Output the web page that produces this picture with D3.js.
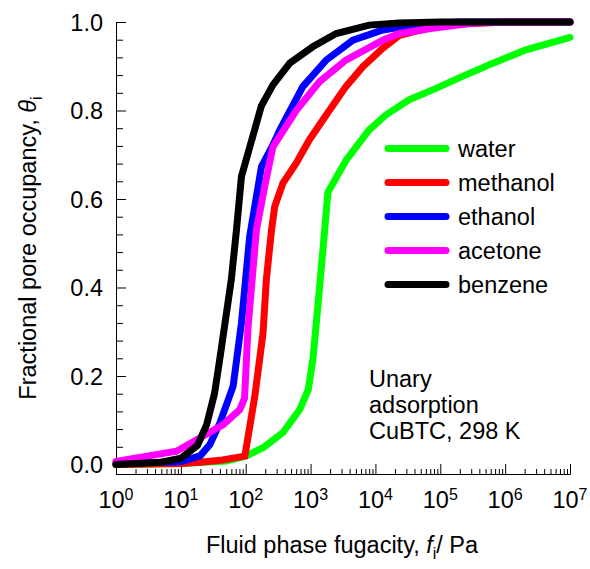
<!DOCTYPE html>
<html>
<head>
<meta charset="utf-8">
<script src="https://cdn.jsdelivr.net/npm/d3@7"></script>
<style>
  body { margin: 0; background: #fff; }
  text { font-family: "Liberation Sans", Arial, sans-serif; fill: #000; }
</style>
</head>
<body>
<svg id="chart" width="590" height="569"></svg>
<script>
// isotherm data: [fugacity / Pa, theta]
const water = [[1,0.0],[10,0.002],[50,0.008],[100,0.019],[185,0.038],[375,0.072],[680,0.124],[920,0.169],[1080,0.235],[1300,0.36],[1650,0.53],[1850,0.615],[3550,0.688],[8000,0.756],[14500,0.79],[33000,0.824],[86000,0.85],[2.2e5,0.877],[6.5e5,0.907],[2.1e6,0.937],[1e7,0.965]];
const methanol = [[1,0.0],[10,0.002],[20,0.005],[44,0.01],[97,0.019],[138,0.154],[185,0.297],[208,0.418],[250,0.53],[280,0.583],[375,0.636],[600,0.681],[960,0.734],[1970,0.801],[3500,0.854],[6400,0.899],[13000,0.941],[23500,0.97],[1e5,0.993],[1e6,1.0],[1e7,1.0]];
const ethanol = [[1,0.002],[10,0.006],[20,0.02],[28,0.045],[40,0.094],[64,0.177],[86,0.32],[115,0.515],[175,0.673],[263,0.722],[335,0.756],[760,0.854],[1750,0.914],[4500,0.959],[13000,0.982],[50000,0.996],[2e5,1.0],[1e7,1.0]];
const acetone = [[1,0.007],[8.6,0.03],[19.6,0.06],[45,0.09],[81,0.124],[96,0.15],[108,0.305],[146,0.53],[196,0.628],[263,0.718],[600,0.80],[1370,0.865],[3500,0.914],[13000,0.959],[23500,0.974],[76000,0.986],[3e5,0.997],[1e6,1.0],[1e7,1.0]];
const benzene = [[1,0.0],[5,0.005],[10,0.014],[18,0.043],[25,0.09],[33,0.16],[40,0.24],[60,0.418],[72,0.53],[86,0.651],[174,0.81],[263,0.858],[478,0.907],[1080,0.944],[2490,0.974],[8000,0.993],[23000,0.998],[1e5,1.0],[1e7,1.0]];

const names = ["water", "methanol", "ethanol", "acetone", "benzene"];
const colors = ["#00ff00", "#ff0000", "#0000ff", "#ff00ff", "#000000"];
const series = [water, methanol, ethanol, acetone, benzene];

const xTicks = d3.range(0, 8);          // decades 10^0 .. 10^7
const yTicks = [0, 0.2, 0.4, 0.6, 0.8, 1.0];
const note = ["Unary", "adsorption", "CuBTC, 298 K"];

const svg = d3.select("#chart");

const x = d3.scaleLog().domain([1, 1e7]).range([116, 570]);
const y = d3.scaleLinear().domain([-0.0215, 1]).range([474, 22]);

// minor ticks
const xMinor = [];
for (let e = 0; e < 7; e++) for (let m = 2; m <= 9; m++) xMinor.push(m * Math.pow(10, e));
const yMinor = d3.range(0, 1.0001, 0.04).filter(v => Math.abs(v * 5 - Math.round(v * 5)) > 1e-6);

svg.append("g")
  .attr("transform", "translate(0,474)")
  .call(d3.axisBottom(x).tickValues(xMinor).tickSizeInner(-5).tickSizeOuter(0).tickFormat(""));
svg.append("g")
  .attr("transform", "translate(0,474)")
  .call(d3.axisBottom(x).tickValues(xTicks.map(e => Math.pow(10, e))).tickSizeInner(-10).tickSizeOuter(0).tickFormat(""));

svg.append("g")
  .attr("transform", "translate(116,0)")
  .call(d3.axisLeft(y).tickValues(yMinor).tickSizeInner(-7).tickSizeOuter(0).tickFormat(""));
const yAxis = svg.append("g")
  .attr("transform", "translate(116,0)")
  .call(d3.axisLeft(y).tickValues(yTicks).tickSizeInner(-10).tickSizeOuter(0).tickPadding(13).tickFormat(d3.format(".1f")));
yAxis.selectAll("text").attr("font-size", 23.5).attr("font-family", null).attr("dy", "0.36em");
svg.selectAll(".domain, .tick line").attr("stroke", "#000").attr("stroke-width", 1);

// x tick labels with superscript exponents
const xl = svg.append("g").selectAll("text").data(xTicks).join("text")
  .attr("x", d => x(Math.pow(10, d)))
  .attr("y", 508)
  .attr("text-anchor", "middle")
  .attr("font-size", 23.5);
xl.append("tspan").text("10");
xl.append("tspan").attr("font-size", 16).attr("dy", -8).text(d => d);

// curves
const line = d3.line().x(d => x(d[0])).y(d => y(d[1]));
svg.append("g").selectAll("path").data(series).join("path")
  .attr("d", line)
  .attr("fill", "none")
  .attr("stroke", (d, i) => colors[i])
  .attr("stroke-width", 7)
  .attr("stroke-linecap", "round");

// legend
const lg = svg.append("g").selectAll("g").data(names).join("g")
  .attr("transform", (d, i) => `translate(0,${157 + i * 34})`);
lg.append("line")
  .attr("x1", 388).attr("x2", 446).attr("y1", -8.5).attr("y2", -8.5)
  .attr("stroke", (d, i) => colors[i])
  .attr("stroke-width", 7)
  .attr("stroke-linecap", "round");
lg.append("text").attr("x", 458).attr("y", 0).attr("font-size", 23.5).text(d => d);

// annotation
svg.append("g").selectAll("text").data(note).join("text")
  .attr("x", 369)
  .attr("y", (d, i) => 387 + i * 26)
  .attr("font-size", 23.5)
  .text(d => d);

// axis titles
const xt = svg.append("text")
  .attr("x", 342).attr("y", 553)
  .attr("text-anchor", "middle")
  .attr("font-size", 23.5);
xt.append("tspan").text("Fluid phase fugacity, ");
xt.append("tspan").attr("font-style", "italic").text("f");
xt.append("tspan").attr("font-size", 16).attr("dy", 6).text("i");
xt.append("tspan").attr("dy", -6).text("/ Pa");

const yt = svg.append("text")
  .attr("transform", "translate(36,248) rotate(-90)")
  .attr("text-anchor", "middle")
  .attr("font-size", 23.5);
yt.append("tspan").text("Fractional pore occupancy, ");
yt.append("tspan").attr("font-style", "italic").text("θ");
yt.append("tspan").attr("font-size", 16).attr("dy", 6).text("i");
</script>
</body>
</html>
